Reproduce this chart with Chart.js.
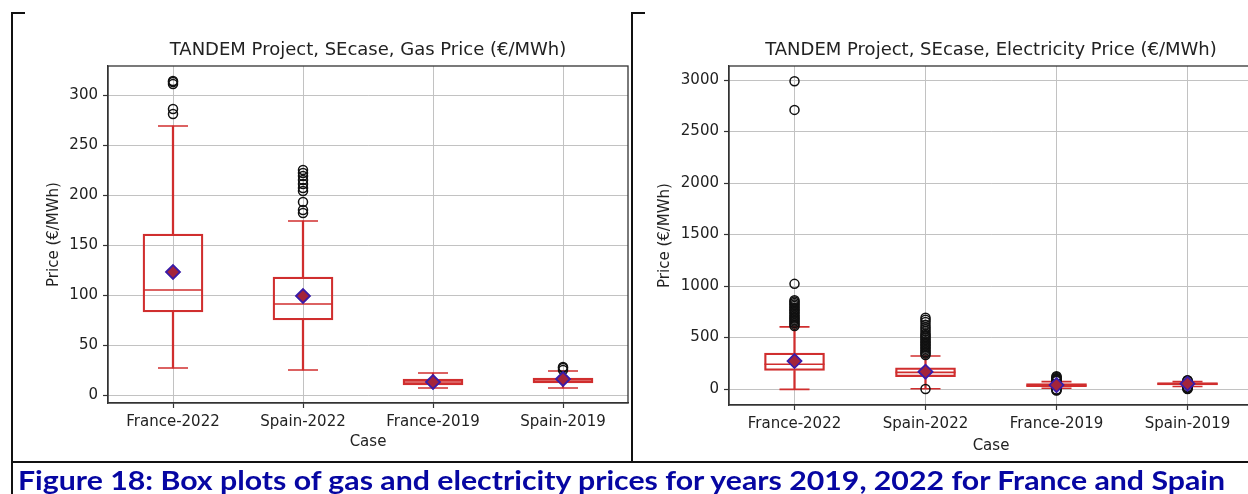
<!DOCTYPE html>
<html>
<head>
<meta charset="utf-8">
<script src="https://cdn.jsdelivr.net/npm/chart.js@4.4.1/dist/chart.umd.min.js"></script>
<style>
  html, body { margin: 0; padding: 0; background: #fff; }
  body { width: 1248px; height: 494px; overflow: hidden; position: relative; }
  canvas { position: absolute; top: 0; }
  #gasChart { left: 0; }
  #elecChart { left: 632px; }
  .rule { position: absolute; background: #111; }
  #caption {
    position: absolute; left: 18px; top: 467px;
    font: bold 26px Lato, sans-serif; line-height: 26px;
    color: #0606a2; white-space: nowrap; transform-origin: 0 0;
  }
</style>
</head>
<body>
<canvas id="gasChart" width="631" height="462"></canvas>
<canvas id="elecChart" width="632" height="462"></canvas>

<!-- table borders of the document the figure sits in -->
<div class="rule" style="left:11px;top:12px;width:1.5px;height:482px"></div>
<div class="rule" style="left:11px;top:12px;width:14px;height:1.5px"></div>
<div class="rule" style="left:631px;top:12px;width:1.5px;height:450px"></div>
<div class="rule" style="left:631px;top:12px;width:14px;height:1.5px"></div>
<div class="rule" style="left:11px;top:461px;width:1237px;height:1.5px"></div>

<div id="caption">Figure 18: Box plots of gas and electricity prices for years 2019, 2022 for France and Spain</div>

<script>
const categories = ['France-2022', 'Spain-2022', 'France-2019', 'Spain-2019'];

// gas price (€/MWh)
const gasLow    = [27, 25, 7, 7];
const gasQ1     = [83, 75, 10, 12];
const gasMedian = [105, 91, 13, 14];
const gasQ3     = [161, 118, 16, 17];
const gasHigh   = [269, 174, 22, 24];
const gasMean   = [123, 99, 13, 16];
const gasOutliers = [
    [281, 286, 311, 313, 314],
    [182, 185, 193, 204, 207, 211, 215, 219, 222, 225],
    [],
    [25, 27, 28]
];
const gasTicks = [0, 50, 100, 150, 200, 250, 300];

// electricity price (€/MWh)
const elecLow    = [-3, 3, 8, 25];
const elecQ1     = [180, 120, 22, 40];
const elecMedian = [240, 162, 35, 50];
const elecQ3     = [350, 205, 52, 62];
const elecHigh   = [603, 321, 72, 72];
const elecMean   = [272, 168, 38, 52];
const elecOutliers = [
    [612, 625, 640, 655, 670, 685, 700, 715, 730, 745, 760, 775, 790, 805, 820, 835, 850, 862, 1021, 2710, 2988],
    [0, 330, 345, 360, 375, 390, 405, 420, 435, 450, 465, 480, 495, 510, 525, 540, 560, 580, 600, 625, 650, 672, 692],
    [-15, -10, -5, 78, 85, 92, 100, 108, 116, 124],
    [0, 5, 10, 15, 20, 78, 82, 86]
];
const elecTicks = [0, 500, 1000, 1500, 2000, 2500, 3000];

const boxRed = '#d02e2e';
const meanFill = '#a3243b';
const meanEdge = '#3a1ca8';
const gridColor = '#c2c2c2';
const inkColor = '#222';
const spineColor = '#333';

Chart.defaults.font.family = 'DejaVu Sans';

// matplotlib draws all four spines, chart.js only left and bottom
const frame = {
    id: 'frame',
    afterDatasetsDraw(chart) {
        const { ctx, chartArea: a } = chart;
        ctx.save();
        ctx.strokeStyle = spineColor;
        ctx.lineWidth = 1.3;
        ctx.strokeRect(a.left, a.top, a.right - a.left, a.bottom - a.top);
        ctx.restore();
    }
};

function capLine(label, data, radius, order) {
    return {
        type: 'line', label, data, order, showLine: false,
        pointStyle: 'line', pointRadius: radius,
        pointBorderColor: boxRed, pointBorderWidth: 1.6
    };
}

function boxChart(id, o) {
    const outlierPoints = o.outliers.flatMap((vals, i) => vals.map(v => ({ x: categories[i], y: v })));
    const tickFont = { family: 'DejaVu Sans', size: 15 };

    return new Chart(document.getElementById(id), {
        type: 'bar',
        data: {
            labels: categories,
            datasets: [
                {
                    type: 'line', label: 'mean', data: o.mean, order: 0, showLine: false,
                    pointStyle: 'rectRot', pointRadius: 7,
                    pointBackgroundColor: meanFill, pointBorderColor: meanEdge, pointBorderWidth: 1.8
                },
                {
                    type: 'line', label: 'outliers', data: outlierPoints, order: 1, showLine: false,
                    pointStyle: 'circle', pointRadius: 4.5,
                    pointBackgroundColor: 'rgba(0,0,0,0)', pointBorderColor: '#111', pointBorderWidth: 1.5
                },
                capLine('median', o.median, 30, 2),
                capLine('low cap', o.low, 15, 3),
                capLine('high cap', o.high, 15, 3),
                {
                    label: 'box', data: o.q1.map((v, i) => [v, o.q3[i]]), order: 4,
                    grouped: false, barThickness: 60,
                    backgroundColor: 'rgba(0,0,0,0)', borderColor: boxRed, borderWidth: 1.6, borderSkipped: false
                },
                {
                    label: 'lower whisker', data: o.low.map((v, i) => [v, o.q1[i]]), order: 5,
                    grouped: false, barThickness: 1.6, backgroundColor: boxRed, borderWidth: 0
                },
                {
                    label: 'upper whisker', data: o.q3.map((v, i) => [v, o.high[i]]), order: 5,
                    grouped: false, barThickness: 1.6, backgroundColor: boxRed, borderWidth: 0
                }
            ]
        },
        options: {
            responsive: false,
            animation: false,
            events: [],
            layout: { autoPadding: false, padding: { left: o.padLeft, right: o.padRight, top: 0, bottom: 0 } },
            plugins: {
                legend: { display: false },
                tooltip: { enabled: false },
                title: {
                    display: true, text: o.title, fullSize: false, color: inkColor,
                    font: { family: 'DejaVu Sans', size: 18, weight: 'normal' },
                    padding: { top: 39.2, bottom: 5.2 }
                }
            },
            scales: {
                x: {
                    offset: true,
                    grid: { offset: false, color: gridColor, lineWidth: 1, tickLength: 5, tickColor: spineColor, tickWidth: 1.2 },
                    border: { color: spineColor, width: 1.3 },
                    ticks: { color: inkColor, font: tickFont, padding: 5, maxRotation: 0, autoSkip: false },
                    title: { display: true, text: 'Case', color: inkColor, font: tickFont, padding: { top: 0, bottom: o.xTitlePad } },
                    afterFit: s => { s.height = o.xAxisHeight; s.paddingLeft = 0; s.paddingRight = 0; }
                },
                y: {
                    min: o.min, max: o.max,
                    afterBuildTicks: s => { s.ticks = o.ticks.map(v => ({ value: v })); },
                    grid: { color: gridColor, lineWidth: 1, tickLength: 5, tickColor: spineColor, tickWidth: 1.2 },
                    border: { color: spineColor, width: 1.3 },
                    ticks: { color: inkColor, font: tickFont, padding: 5, callback: v => String(v) },
                    title: { display: true, text: 'Price (€/MWh)', color: inkColor, font: tickFont, padding: { top: 0, bottom: 0 } },
                    afterFit: s => { s.width = o.yAxisWidth; s.paddingTop = 0; s.paddingBottom = 0; }
                }
            }
        },
        plugins: [frame]
    });
}

boxChart('gasChart', {
    title: 'TANDEM Project, SEcase, Gas Price (€/MWh)',
    low: gasLow, q1: gasQ1, median: gasMedian, q3: gasQ3, high: gasHigh, mean: gasMean,
    outliers: gasOutliers, ticks: gasTicks,
    min: -8, max: 329,
    padLeft: 45, padRight: 3, yAxisWidth: 63, xAxisHeight: 59, xTitlePad: 11
});

boxChart('elecChart', {
    title: 'TANDEM Project, SEcase, Electricity Price (€/MWh)',
    low: elecLow, q1: elecQ1, median: elecMedian, q3: elecQ3, high: elecHigh, mean: elecMean,
    outliers: elecOutliers, ticks: elecTicks,
    min: -155, max: 3136,
    padLeft: 24, padRight: 11, yAxisWidth: 73, xAxisHeight: 57, xTitlePad: 7
});

// stretch the caption to the width it takes in the document
const caption = document.getElementById('caption');
const capWidth = caption.getBoundingClientRect().width;
caption.style.transform = 'scaleX(' + (1207 / capWidth) + ')';
</script>
</body>
</html>
